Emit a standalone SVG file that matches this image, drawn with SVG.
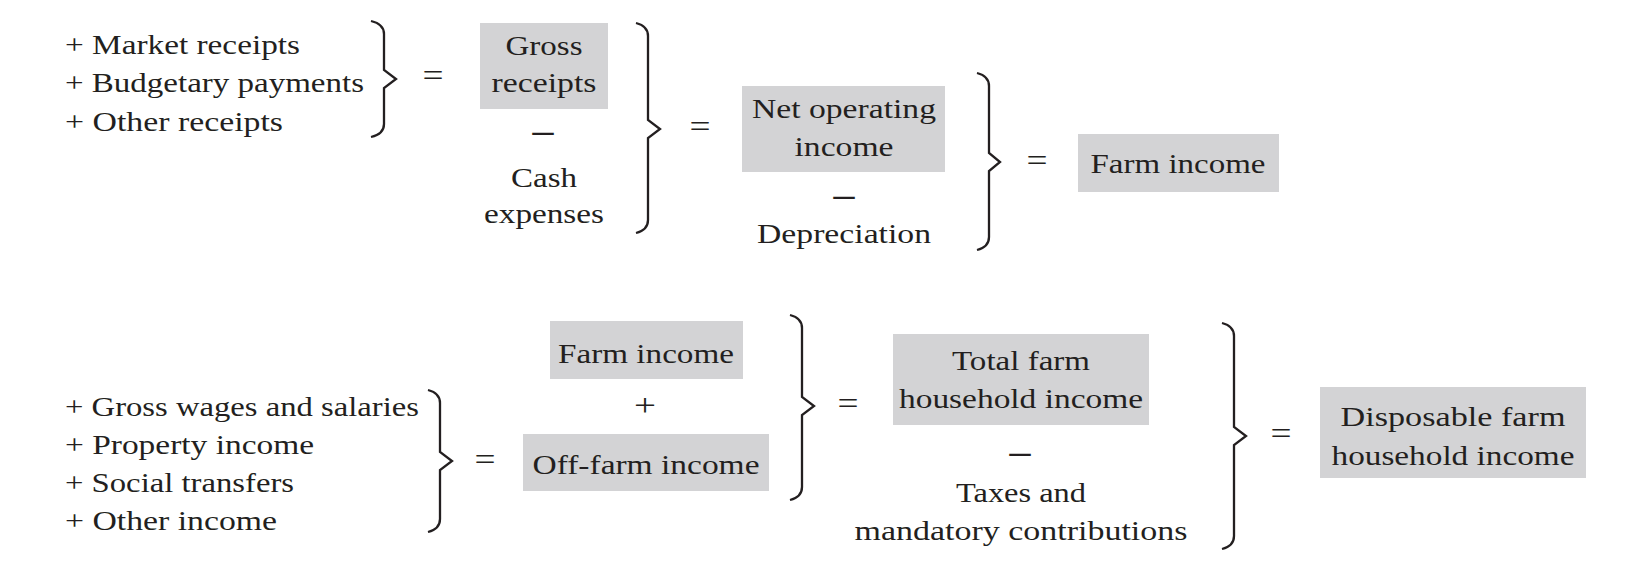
<svg xmlns="http://www.w3.org/2000/svg" width="1628" height="580" viewBox="0 0 1628 580">
<style>
text{font-family:"Liberation Serif","Times New Roman",serif;font-size:28px;fill:#231f20}
.c{text-anchor:middle}
.box{fill:#d3d3d5}
.br{fill:none;stroke:#231f20;stroke-width:2.3;stroke-linejoin:miter}
.eq{font-size:32px;text-anchor:middle}
.op{font-size:32px;text-anchor:middle;font-weight:bold}
</style>
<rect width="1628" height="580" fill="#ffffff"/>
<g id="receipts-list">
<text x="65" y="54" textLength="235" lengthAdjust="spacingAndGlyphs">+ Market receipts</text>
<text x="65" y="92" textLength="299" lengthAdjust="spacingAndGlyphs">+ Budgetary payments</text>
<text x="65" y="131" textLength="218" lengthAdjust="spacingAndGlyphs">+ Other receipts</text>
</g>
<g id="gross-receipts">
<rect class="box" x="480" y="23" width="128" height="86"/>
<text class="c" x="544" y="55" textLength="77" lengthAdjust="spacingAndGlyphs">Gross</text>
<text class="c" x="544" y="92" textLength="105" lengthAdjust="spacingAndGlyphs">receipts</text>
<text class="op" x="543" y="141" textLength="21" lengthAdjust="spacingAndGlyphs">–</text>
</g>
<g id="cash-expenses">
<text class="c" x="544" y="187" textLength="66" lengthAdjust="spacingAndGlyphs">Cash</text>
<text class="c" x="544" y="223" textLength="120" lengthAdjust="spacingAndGlyphs">expenses</text>
</g>
<g id="net-operating-income">
<rect class="box" x="742" y="86" width="203" height="86"/>
<text class="c" x="844" y="118" textLength="184" lengthAdjust="spacingAndGlyphs">Net operating</text>
<text class="c" x="844" y="156" textLength="99" lengthAdjust="spacingAndGlyphs">income</text>
<text class="op" x="844" y="205" textLength="21" lengthAdjust="spacingAndGlyphs">–</text>
</g>
<g id="depreciation">
<text class="c" x="844" y="243" textLength="174" lengthAdjust="spacingAndGlyphs">Depreciation</text>
</g>
<g id="farm-income">
<rect class="box" x="1078" y="134" width="201" height="58"/>
<text class="c" x="1178" y="173" textLength="175" lengthAdjust="spacingAndGlyphs">Farm income</text>
</g>
<g id="offfarm-list">
<text x="65" y="416" textLength="354" lengthAdjust="spacingAndGlyphs">+ Gross wages and salaries</text>
<text x="65" y="454" textLength="249" lengthAdjust="spacingAndGlyphs">+ Property income</text>
<text x="65" y="492" textLength="229" lengthAdjust="spacingAndGlyphs">+ Social transfers</text>
<text x="65" y="530" textLength="212" lengthAdjust="spacingAndGlyphs">+ Other income</text>
</g>
<g id="farm-income-2">
<rect class="box" x="550" y="321" width="193" height="58"/>
<text class="c" x="646" y="363" textLength="176" lengthAdjust="spacingAndGlyphs">Farm income</text>
<text class="c" x="645" y="416" style="font-size:32px" textLength="22" lengthAdjust="spacingAndGlyphs">+</text>
</g>
<g id="off-farm-income">
<rect class="box" x="523" y="434" width="246" height="57"/>
<text class="c" x="646" y="474" textLength="227" lengthAdjust="spacingAndGlyphs">Off-farm income</text>
</g>
<g id="total-farm-household-income">
<rect class="box" x="893" y="334" width="256" height="91"/>
<text class="c" x="1021" y="370" textLength="138" lengthAdjust="spacingAndGlyphs">Total farm</text>
<text class="c" x="1021" y="408" textLength="244" lengthAdjust="spacingAndGlyphs">household income</text>
<text class="op" x="1020" y="462" textLength="21" lengthAdjust="spacingAndGlyphs">–</text>
</g>
<g id="taxes">
<text class="c" x="1021" y="502" textLength="130" lengthAdjust="spacingAndGlyphs">Taxes and</text>
<text class="c" x="1021" y="540" textLength="333" lengthAdjust="spacingAndGlyphs">mandatory contributions</text>
</g>
<g id="disposable-farm-household-income">
<rect class="box" x="1320" y="387" width="266" height="91"/>
<text class="c" x="1453" y="426" textLength="225" lengthAdjust="spacingAndGlyphs">Disposable farm</text>
<text class="c" x="1453" y="465" textLength="243" lengthAdjust="spacingAndGlyphs">household income</text>
</g>
<g id="connectors">
<path class="br" d="M371,21 Q384,24 384,34 L384,70 L396,79 L384,88 L384,124 Q384,134 371,137"/>
<path class="br" d="M636,23 Q648,26 648,36 L648,120 L660,129 L648,138 L648,220 Q648,230 636,233"/>
<path class="br" d="M977,73 Q989,76 989,86 L989,153 L1000,162 L989,171 L989,237 Q989,247 977,250"/>
<path class="br" d="M428,390 Q440,393 440,403 L440,452 L452,461 L440,470 L440,519 Q440,529 428,532"/>
<path class="br" d="M790,315 Q802,318 802,328 L802,397 L814,406 L802,415 L802,487 Q802,497 790,500"/>
<path class="br" d="M1222,323 Q1234,326 1234,336 L1234,427 L1246,436 L1234,445 L1234,536 Q1234,546 1222,549"/>
<text class="eq" x="433" y="86" textLength="21" lengthAdjust="spacingAndGlyphs">=</text>
<text class="eq" x="700" y="137" textLength="21" lengthAdjust="spacingAndGlyphs">=</text>
<text class="eq" x="1037" y="171" textLength="21" lengthAdjust="spacingAndGlyphs">=</text>
<text class="eq" x="485" y="470" textLength="21" lengthAdjust="spacingAndGlyphs">=</text>
<text class="eq" x="848" y="414" textLength="21" lengthAdjust="spacingAndGlyphs">=</text>
<text class="eq" x="1281" y="444" textLength="21" lengthAdjust="spacingAndGlyphs">=</text>
</g>
</svg>
